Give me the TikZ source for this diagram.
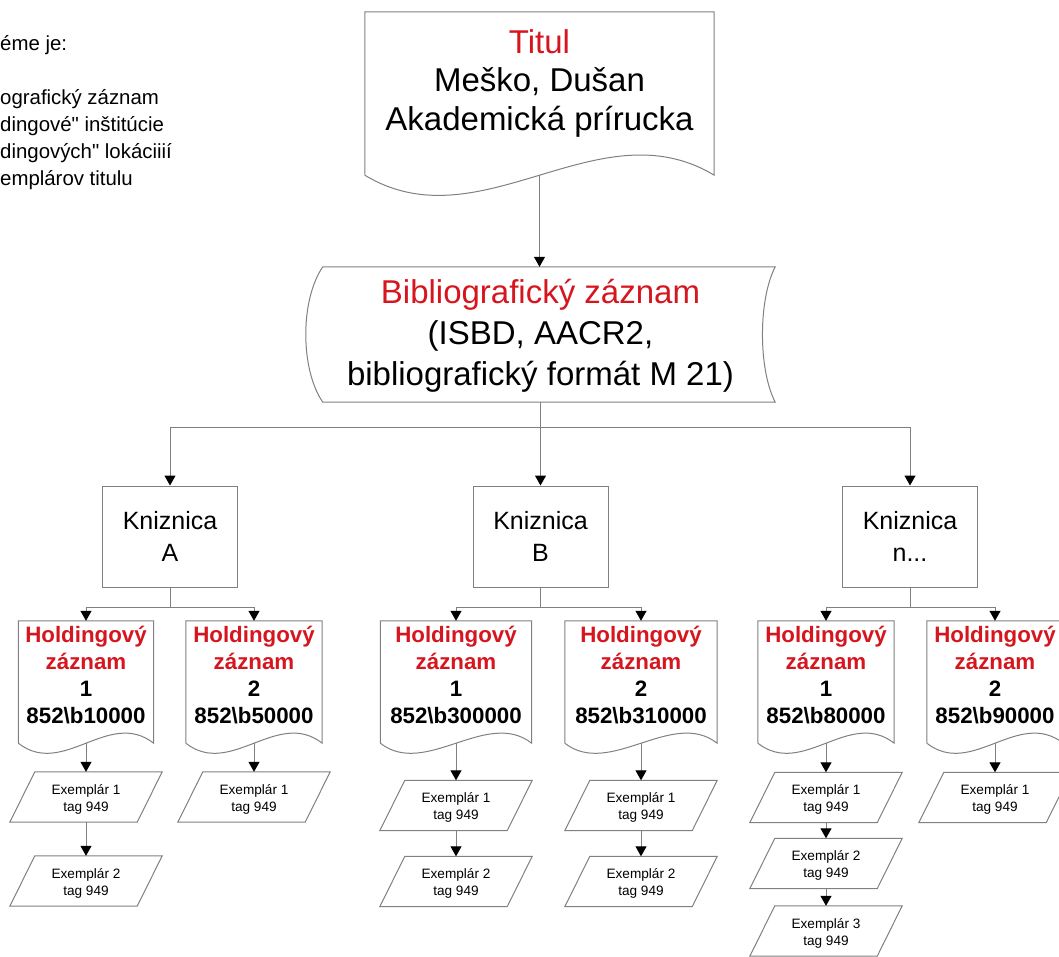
\documentclass[tikz,border=0pt]{standalone}
\usepackage{fontspec}
\setmainfont{Liberation Sans}[Ligatures=TeXOff]
\usetikzlibrary{arrows.meta}
\definecolor{hdred}{RGB}{214,22,30}
\definecolor{lngray}{RGB}{128,128,128}

\tikzset{
grayln/.style={draw=lngray, line width=1pt},
arr/.style={grayln, -{Triangle[length=10pt,width=11pt,color=black]}},
knbox/.style={grayln, minimum width=135pt, minimum height=101pt, inner sep=0pt, align=center, font=\fontsize{25}{32}\selectfont},
hdbox/.style={minimum height=122pt, inner sep=0pt, align=center, font=\bfseries\fontsize{22.3}{27}\selectfont},
exbox/.style={minimum width=127pt, minimum height=50pt, inner sep=0pt, align=center, font=\fontsize{13.6}{17}\selectfont}
}

\newcommand{\kniznica}[3]{
\node[knbox] (#1) at (#2,536.5) {\rule{0pt}{20pt}Kniznica\\#3\rule[-3pt]{0pt}{3pt}};}
\newcommand{\holding}[5]{
\node[hdbox, minimum width=#3] (#1) at (#2,682) {\rule{0pt}{17pt}\textcolor{hdred}{Holdingový}\\\textcolor{hdred}{záznam}\\#4\\#5\rule[-15pt]{0pt}{15pt}};
\draw[grayln] (#1.south west) -- (#1.north west) -- (#1.north east) -- (#1.south east)
  .. controls +(-45,-35) and +(45,35) .. (#1.south west);}
\newcommand{\exemplar}[4]{
\node[exbox] (#1) at (#2,#3) {\rule{0pt}{14pt}Exemplár #4\\tag 949\rule[-3pt]{0pt}{3pt}};
\draw[grayln] ([xshift=12.5pt]#1.north west) -- ([xshift=12.5pt]#1.north east)
  -- ([xshift=-12.5pt]#1.south east) -- ([xshift=-12.5pt]#1.south west) -- cycle;}

\begin{document}
\begin{tikzpicture}[x=1pt,y=-1pt]
\useasboundingbox (0,0) rectangle (1059,956);

% cut-off note on the left
\node[anchor=north west, inner sep=0pt, align=left, font=\fontsize{20.4}{27}\selectfont] (intro) at (0,32)
  {\rule{0pt}{18pt}éme je:\\[27pt]ografický záznam\\dingové" inštitúcie\\dingových" lokáciiií\\emplárov titulu};

% title
\node[inner sep=0pt, minimum width=349pt, minimum height=163pt, align=center, font=\fontsize{33}{38.5}\selectfont] (titul) at (539.5,93.5)
  {\rule{0pt}{25pt}\textcolor{hdred}{Titul}\\Meško, Dušan\\Akademická prírucka\rule[-29pt]{0pt}{29pt}};
\draw[grayln] (titul.south west) -- (titul.north west) -- (titul.north east) -- (titul.south east)
  .. controls +(-116,-70) and +(116,70) .. (titul.south west);

% bibliographic record
\node[inner sep=0pt, minimum width=469pt, minimum height=135pt, align=center, font=\fontsize{33}{41}\selectfont] (bib) at (540.5,334.5)
  {\rule{0pt}{30pt}\textcolor{hdred}{Bibliografický záznam}\\(ISBD, AACR2,\\bibliografický formát M 21)\rule[-11pt]{0pt}{11pt}};
\draw[grayln] ([xshift=17pt]bib.north west) -- (bib.north east)
  .. controls +(-17,33) and +(-17,-33) .. (bib.south east) -- ([xshift=17pt]bib.south west)
  .. controls +(-22.7,-33) and +(-22.7,33) .. ([xshift=17pt]bib.north west);

\draw[arr] (titul.south) -- (titul.south |- bib.north);

% libraries
\kniznica{kA}{170}{A}
\kniznica{kB}{540.5}{B}
\kniznica{kN}{910}{n...}

\draw[arr] (bib.south) -- ++(0,25) -| (kA.north);
\draw[arr] (bib.south) -- (kB.north);
\draw[arr] (bib.south) -- ++(0,25) -| (kN.north);

% holdings
\holding{a1}{86}{135pt}{1}{852\textbackslash b10000}
\holding{a2}{254}{136pt}{2}{852\textbackslash b50000}
\holding{b1}{456}{151pt}{1}{852\textbackslash b300000}
\holding{b2}{641}{152pt}{2}{852\textbackslash b310000}
\holding{n1}{826}{136pt}{1}{852\textbackslash b80000}
\holding{n2}{995}{136pt}{2}{852\textbackslash b90000}

\foreach \k/\p/\q in {kA/a1/a2, kB/b1/b2, kN/n1/n2}{
  \draw[arr] (\k.south) -- ++(0,20) -| (\p.north);
  \draw[arr] (\k.south) -- ++(0,20) -| (\q.north);
}

% items
\exemplar{a1x1}{86}{797}{1}
\exemplar{a1x2}{86}{881}{2}
\exemplar{a2x1}{254}{797}{1}
\exemplar{b1x1}{456}{805.5}{1}
\exemplar{b1x2}{456}{881.5}{2}
\exemplar{b2x1}{641}{805.5}{1}
\exemplar{b2x2}{641}{881.5}{2}
\exemplar{n1x1}{826}{797.5}{1}
\exemplar{n1x2}{826}{863.5}{2}
\exemplar{n1x3}{826}{931}{3}
\exemplar{n2x1}{995}{797.5}{1}

\draw[arr] (a1.south) -- (a1x1.north);
\draw[arr] (a1x1.south) -- (a1x2.north);
\draw[arr] (a2.south) -- (a2x1.north);
\draw[arr] (b1.south) -- (b1x1.north);
\draw[arr] (b1x1.south) -- (b1x2.north);
\draw[arr] (b2.south) -- (b2x1.north);
\draw[arr] (b2x1.south) -- (b2x2.north);
\draw[arr] (n1.south) -- (n1x1.north);
\draw[arr] (n1x1.south) -- (n1x2.north);
\draw[arr] (n1x2.south) -- (n1x3.north);
\draw[arr] (n2.south) -- (n2x1.north);

\end{tikzpicture}
\end{document}
